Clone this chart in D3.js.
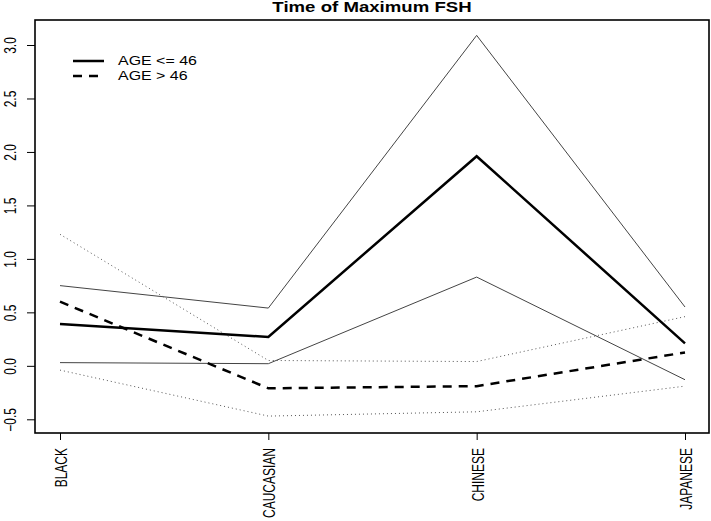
<!DOCTYPE html>
<html>
<head>
<meta charset="utf-8">
<script src="https://cdn.jsdelivr.net/npm/d3@7"></script>
<style>
  body { margin: 0; background: #fff; }
  svg { display: block; font-family: "Liberation Sans", Arial, sans-serif; }
</style>
</head>
<body>
<svg width="711" height="521"></svg>
<script>
// dados
const categories = ["BLACK", "CAUCASIAN", "CHINESE", "JAPANESE"];
const youngMean = [0.39, 0.27, 1.96, 0.21];
const youngUpper = [0.75, 0.54, 3.09, 0.55];
const youngLower = [0.03, 0.02, 0.83, -0.13];
const oldMean = [0.60, -0.21, -0.19, 0.125];
const oldUpper = [1.23, 0.05, 0.04, 0.46];
const oldLower = [-0.04, -0.47, -0.43, -0.19];
const yTicks = [-0.5, 0, 0.5, 1, 1.5, 2, 2.5, 3];
const legendLabels = ["AGE <= 46", "AGE > 46"];

const svg = d3.select("svg");
const box = { left: 35, right: 709, top: 20, bottom: 433 };
const SX = 1.33; // o original está esticado na horizontal

const x = d3.scalePoint().domain(categories).range([60, 685]);
const y = d3.scaleLinear().domain([-0.5, 3.0]).range([419.3, 45]);

// séries: estilo de cada linha
const series = [
  { values: youngUpper, width: 1, dash: null, color: "#444" },
  { values: youngLower, width: 1, dash: null, color: "#444" },
  { values: oldUpper, width: 1, dash: "1,3", color: "#555" },
  { values: oldLower, width: 1, dash: "1,3", color: "#555" },
  { values: youngMean, width: 2.5, dash: null, color: "#000" },
  { values: oldMean, width: 2.5, dash: "9,7", color: "#000" }
];

const line = d3.line()
  .x((d, i) => x(categories[i]))
  .y(d => y(d));

svg.selectAll(".series")
  .data(series)
  .enter()
  .append("path")
  .attr("class", "series")
  .attr("d", d => line(d.values))
  .attr("fill", "none")
  .attr("stroke", d => d.color)
  .attr("stroke-width", d => d.width)
  .attr("stroke-dasharray", d => d.dash);

// eixo y
const yAxis = svg.append("g")
  .attr("transform", `translate(${box.left},0)`)
  .call(d3.axisLeft(y).tickValues(yTicks).tickSize(8));
yAxis.select(".domain").remove();
yAxis.selectAll("line").attr("stroke", "#000");
yAxis.selectAll("text")
  .attr("x", null).attr("dy", null)
  .attr("transform", `translate(-19,0) scale(${SX},1) rotate(-90)`)
  .attr("text-anchor", "middle")
  .attr("font-size", 12)
  .attr("font-family", "Liberation Sans, Arial, sans-serif")
  .text(d => d3.format(".1f")(d).replace("-", "\u2212"));

// eixo x
const xAxis = svg.append("g")
  .attr("transform", `translate(0,${box.bottom})`)
  .call(d3.axisBottom(x).tickSize(7));
xAxis.select(".domain").remove();
xAxis.selectAll("line").attr("stroke", "#000");
xAxis.selectAll("text")
  .attr("y", null).attr("dy", null)
  .attr("transform", `translate(6.5,15) scale(${SX},1) rotate(-90)`)
  .attr("text-anchor", "end")
  .attr("font-size", 12)
  .attr("font-family", "Liberation Sans, Arial, sans-serif");

// caixa do gráfico
svg.append("rect")
  .attr("x", box.left)
  .attr("y", box.top)
  .attr("width", box.right - box.left)
  .attr("height", box.bottom - box.top)
  .attr("fill", "none")
  .attr("stroke", "#000")
  .attr("stroke-width", 1.6);

// título
svg.append("text")
  .attr("transform", `translate(${(box.left + box.right) / 2},12) scale(${SX},1)`)
  .attr("text-anchor", "middle")
  .attr("font-weight", "bold")
  .attr("font-size", 14)
  .text("Time of Maximum FSH");

// legenda
const legend = svg.selectAll(".legend")
  .data(legendLabels)
  .enter()
  .append("g")
  .attr("class", "legend")
  .attr("transform", (d, i) => `translate(0,${61 + i * 15})`);
legend.append("line")
  .attr("x1", 73).attr("x2", 104)
  .attr("stroke", "#000")
  .attr("stroke-width", 2.5)
  .attr("stroke-dasharray", (d, i) => i === 1 ? "9,7" : null);
legend.append("text")
  .attr("transform", `translate(118,4.3) scale(${SX},1)`)
  .attr("font-size", 12)
  .text(d => d);
</script>
</body>
</html>
